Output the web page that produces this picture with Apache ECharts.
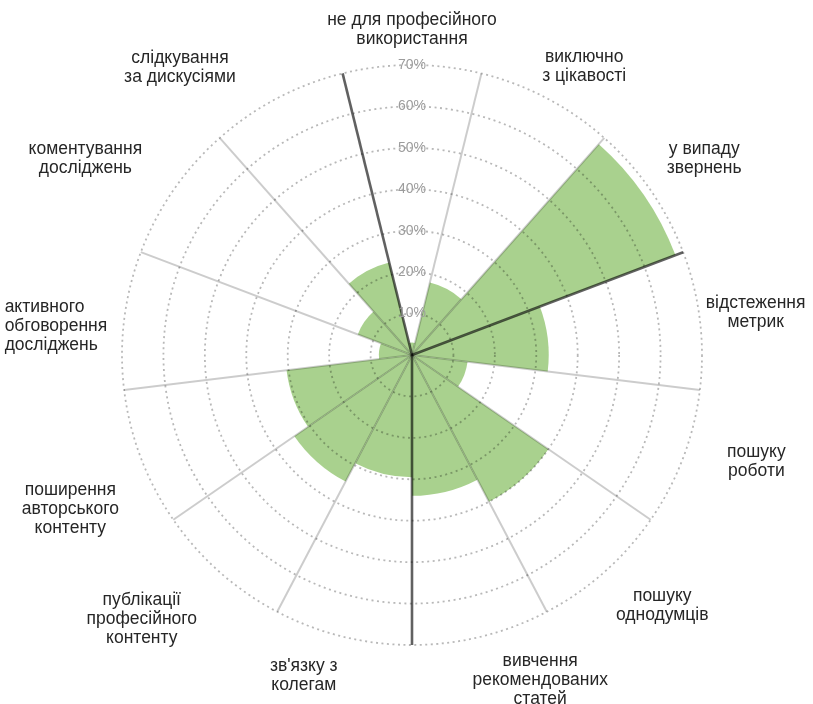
<!DOCTYPE html>
<html>
<head>
<meta charset="utf-8">
<script src="https://cdn.jsdelivr.net/npm/echarts@6/dist/echarts.min.js"></script>
<style>
html,body{margin:0;padding:0;background:#ffffff;}
#chart{width:813px;height:704px;}
</style>
</head>
<body>
<div id="chart"></div>
<script>
// ---- data ----
const categories = [
  'не для професійного\nвикористання',
  'виключно\nз цікавості',
  'у випаду\nзвернень',
  'відстеження\nметрик',
  'пошуку\nроботи',
  'пошуку\nоднодумців',
  'вивчення\nрекомендованих\nстатей',
  "зв'язку з\nколегам",
  'публікації\nпрофесійного\nконтенту',
  'поширення\nавторського\nконтенту',
  'активного\nобговорення\nдосліджень',
  'коментування\nдосліджень',
  'слідкування\nза дискусіями'
];
const shares = [3, 18, 68, 33, 13.5, 40, 34, 29.5, 34.5, 30.5, 8, 14, 23];
const radiusTickValues = [10, 20, 30, 40, 50, 60, 70];
const radiusTickLabels = ['10%', '20%', '30%', '40%', '50%', '60%', '70%'];
const groupStartIndices = [0, 3, 7];

// ---- layout / styling (not data) ----
const CENTER = [412, 355];
const RADIUS = 290;
const LIGHT = 'rgba(0,0,0,0.2)';
const DARK = 'rgba(0,0,0,0.62)';
const NONE = 'rgba(0,0,0,0)';
const FONT = '"Liberation Sans", Arial, sans-serif';
const TEXT_COLOR = '#262626';
// small hand-placement nudges of the category labels [dx, dy] in px
const labelNudges = [
  [0, 0], [-12, 2], [3, -4], [-10, -5], [29, -21], [1, 3], [55, 0],
  [-35, 5], [-12, 7], [-7, 17], [-1, 8], [-18, -4], [-34, 3]
];
const leftAlignedLabels = [10];
const lightSpokes = categories.map((_, i) => groupStartIndices.includes(i) ? NONE : LIGHT);
const darkSpokes = categories.map((_, i) => groupStartIndices.includes(i) ? DARK : NONE);
const startAngle = 90 + 180 / categories.length;

const lineStyle = align => ({align: align, fontSize: 17.5, lineHeight: 19, color: TEXT_COLOR, fontFamily: FONT});

const angleData = categories.map((c, i) => {
  const [dx, dy] = labelNudges[i];
  const ts = {padding: [dy, -dx, -dy, dx]};
  if (leftAlignedLabels.includes(i)) ts.rich = {c: lineStyle('left')};
  return {value: c, textStyle: ts};
});

const chart = echarts.init(document.getElementById('chart'), null, {renderer: 'canvas'});

const option = {
  animation: false,
  backgroundColor: '#ffffff',
  textStyle: {fontFamily: FONT},
  polar: [
    {center: CENTER, radius: RADIUS},
    {center: CENTER, radius: RADIUS},
    {center: CENTER, radius: RADIUS}
  ],
  angleAxis: [
    {
      polarIndex: 0, type: 'category', data: angleData,
      startAngle: startAngle, clockwise: true, z: 5,
      axisLine: {show: false}, axisTick: {show: false},
      axisLabel: {
        margin: 16,
        formatter: v => v.split('\n').map(s => '{c|' + s + '}').join('\n'),
        rich: {c: lineStyle('center')}
      },
      splitLine: {show: true, lineStyle: {color: lightSpokes, width: 2}}
    },
    {polarIndex: 1, type: 'value', startAngle: 90, show: false},
    {
      polarIndex: 2, type: 'category', data: categories,
      startAngle: startAngle, clockwise: true, z: 6,
      axisLine: {show: false}, axisTick: {show: false}, axisLabel: {show: false},
      splitLine: {show: true, lineStyle: {color: darkSpokes, width: 2.6}}
    }
  ],
  radiusAxis: [
    {
      polarIndex: 0, type: 'value', min: 0, max: 70, interval: 10, z: 4,
      axisLine: {show: false}, axisTick: {show: false}, axisLabel: {show: false},
      splitLine: {show: true, lineStyle: {color: 'rgba(0,0,0,0.28)', type: [2, 3.5], width: 1.8}}
    },
    {
      polarIndex: 1, type: 'value', min: 0, max: 70, interval: 10, z: 7,
      axisLine: {show: false}, axisTick: {show: false}, splitLine: {show: false},
      axisLabel: {
        margin: 0, align: 'center', verticalAlign: 'middle',
        color: '#9c9c9c', fontSize: 14,
        formatter: v => {
          const k = radiusTickValues.indexOf(v);
          return k >= 0 ? radiusTickLabels[k] : '';
        }
      }
    },
    {
      polarIndex: 2, type: 'value', min: 0, max: 70, interval: 10, show: false
    }
  ],
  series: [{
    type: 'bar', coordinateSystem: 'polar', polarIndex: 0,
    data: shares, barCategoryGap: '0%', z: 2, silent: true,
    itemStyle: {color: '#a9d18e'}
  }]
};
chart.setOption(option);
</script>
</body>
</html>
